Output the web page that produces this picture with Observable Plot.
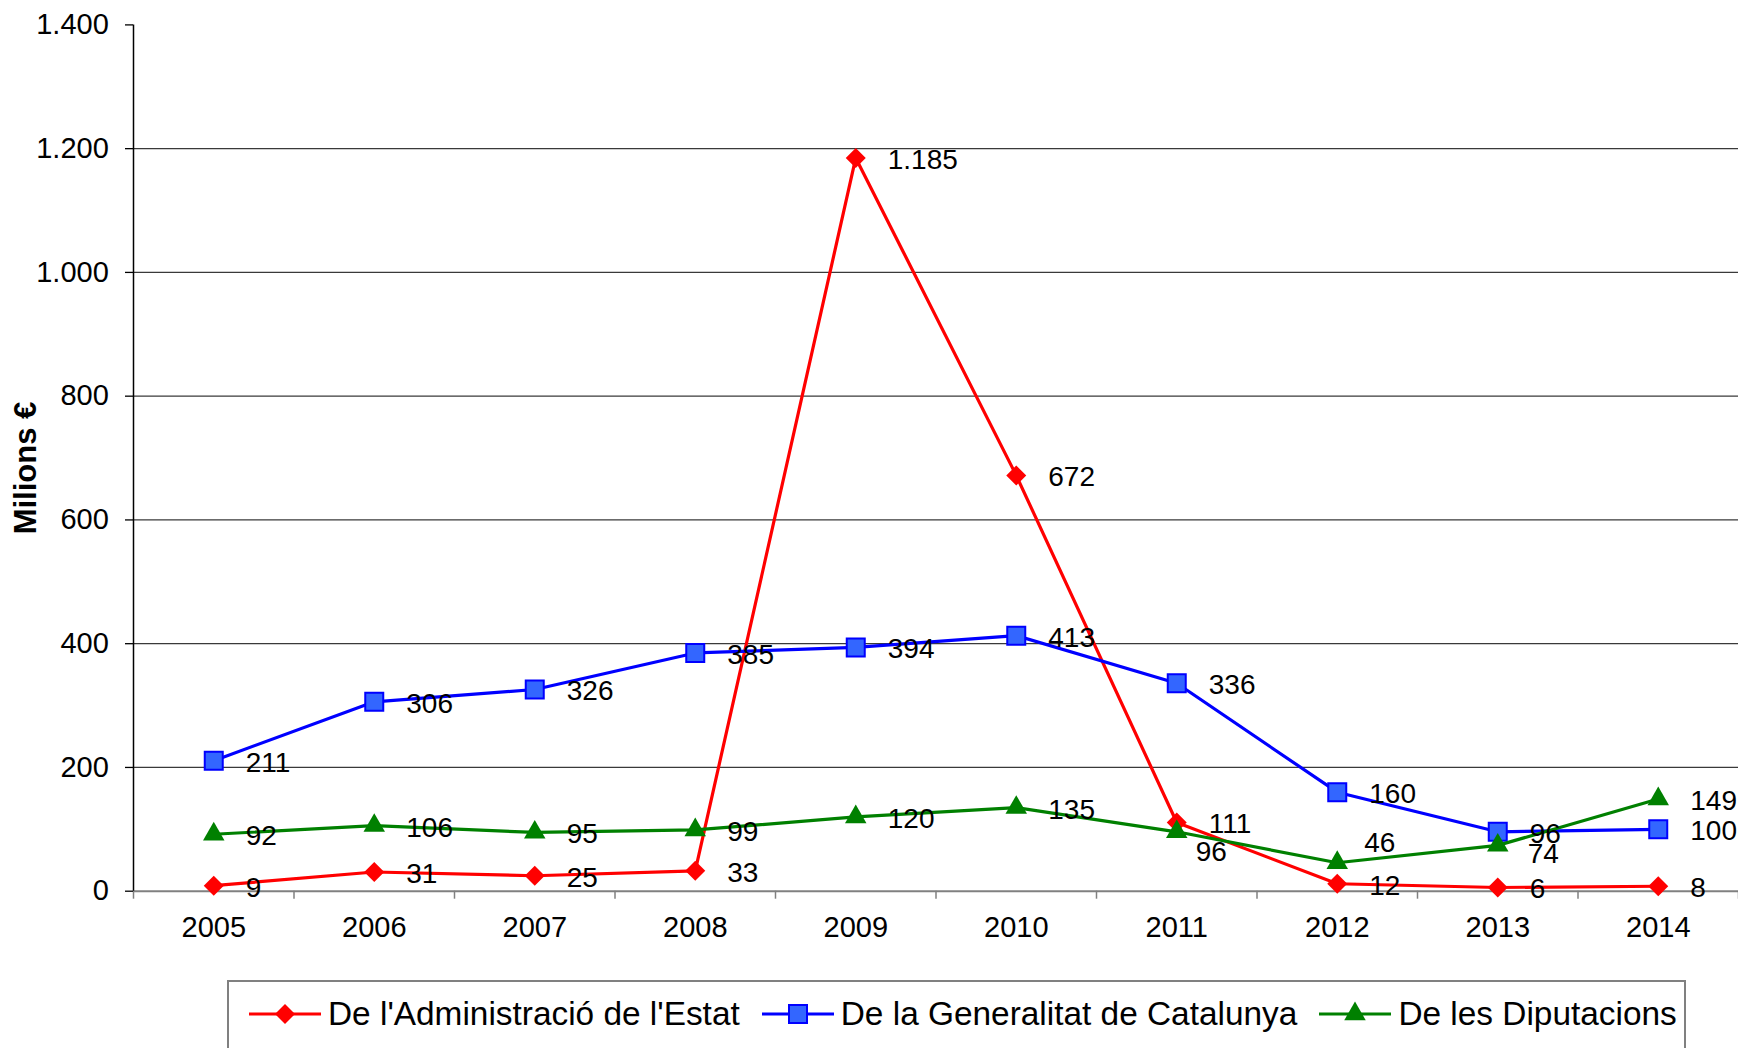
<!DOCTYPE html>
<html><head><meta charset="utf-8">
<script src="https://cdn.jsdelivr.net/npm/d3@7"></script>
<script src="https://cdn.jsdelivr.net/npm/@observablehq/plot@0.6"></script>
<style>
html,body{margin:0;padding:0;background:#fff;overflow:hidden;}
#wrap{position:relative;width:1738px;height:1048px;font-family:"Liberation Sans",Arial,sans-serif;}
#chart svg{display:block;}
#legend{position:absolute;left:227px;top:980px;width:1459px;height:120px;border:2px solid #808080;box-sizing:border-box;background:#fff;}
.row{display:flex;align-items:center;margin-top:12px;padding-left:20px;height:40px;}
.item{display:flex;align-items:center;margin-right:22px;}
.item svg{display:block;margin-right:7px;overflow:visible;}
.item span{font-size:33.4px;color:#000;white-space:nowrap;line-height:40px;}
</style></head>
<body><div id="wrap"><div id="chart"></div><div id="legend"><div class="row" id="row"></div></div></div>
<script>
// ---- data ----
const years = [2005, 2006, 2007, 2008, 2009, 2010, 2011, 2012, 2013, 2014];
const seriesNames = ["De l'Administració de l'Estat", "De la Generalitat de Catalunya", "De les Diputacions"];
const estat = [9, 31, 25, 33, 1185, 672, 111, 12, 6, 8];
const generalitat = [211, 306, 326, 385, 394, 413, 336, 160, 96, 100];
const diputacions = [92, 106, 95, 99, 120, 135, 96, 46, 74, 149];
const yTicks = [0, 200, 400, 600, 800, 1000, 1200, 1400];
const yLabel = "Milions €";

// ---- styles ----
const seriesValues = [estat, generalitat, diputacions];
const seriesStyle = [
  {stroke: "#FF0000", fill: "#FF0000", mstroke: "none", symbol: "diamond2", d3sym: d3.symbolDiamond2, size: 255},
  {stroke: "#0000FF", fill: "#3366FF", mstroke: "#0000FF", symbol: "square", d3sym: d3.symbolSquare, size: 324},
  {stroke: "#008000", fill: "#008000", mstroke: "none", symbol: "triangle", d3sym: d3.symbolTriangle, size: 200}
];
// manual label nudges (series index, year) -> pixel offsets
const nudges = [
  {s: 2, year: 2011, dx: 19, dy: 18},
  {s: 2, year: 2012, dx: 27, dy: -22},
  {s: 2, year: 2013, dx: 30, dy: 7}
];

const locale = d3.formatLocale({decimal: ",", thousands: ".", grouping: [3], currency: ["", " €"]});
const fmt = locale.format(",d");
const font = "'Liberation Sans', Arial, sans-serif";

const rows = seriesNames.flatMap((name, si) =>
  years.map((year, i) => ({s: si, series: name, year, value: seriesValues[si][i]})));

const boundaries = years.map(y => y - 0.5).concat([years[years.length - 1] + 0.5]);
const isNudged = d => nudges.some(n => n.s === d.s && n.year === d.year);

const marks = [
  Plot.ruleY(yTicks.filter(d => d > 0 && d < d3.max(yTicks)), {stroke: "#3a3a3a", strokeWidth: 1.3}),
  Plot.ruleY([0], {stroke: "#808080", strokeWidth: 2}),
  Plot.axisX({ticks: boundaries, tickSize: 8, tickFormat: () => "", label: null, stroke: "#808080", strokeWidth: 1.5}),
  Plot.ruleX([boundaries[0]], {stroke: "#000", strokeWidth: 1.5}),
  Plot.axisY({ticks: yTicks, tickSize: 8, tickPadding: 16.7, tickFormat: fmt, label: null, stroke: "#000", strokeWidth: 1.3, fontSize: 29, fill: "#000"}),
  Plot.axisX({ticks: years, tickSize: 0, tickPadding: 25, tickFormat: d => String(d), label: null, fontSize: 29, fill: "#000"}),
  Plot.text([yLabel], {frameAnchor: "left", textAnchor: "middle", rotate: -90, dx: -107, dy: 10, fontSize: 31, fontWeight: "bold", fill: "#000"})
];

seriesNames.forEach((name, si) => {
  const st = seriesStyle[si];
  const data = rows.filter(d => d.s === si);
  marks.push(Plot.line(data, {x: "year", y: "value", stroke: st.stroke, strokeWidth: 3.2}));
  marks.push(Plot.dot(data, {x: "year", y: "value", symbol: () => st.symbol, r: Math.sqrt(st.size / Math.PI),
    fill: st.fill, stroke: st.mstroke, strokeWidth: st.mstroke === "none" ? 0 : 2}));
});

marks.push(Plot.text(rows.filter(d => !isNudged(d)), {x: "year", y: "value", text: d => fmt(d.value),
  textAnchor: "start", dx: 32, dy: 2, fontSize: 28, fill: "#000"}));
nudges.forEach(n => {
  marks.push(Plot.text(rows.filter(d => d.s === n.s && d.year === n.year), {x: "year", y: "value", text: d => fmt(d.value),
    textAnchor: "start", dx: n.dx, dy: n.dy + 2, fontSize: 28, fill: "#000"}));
});

const chart = Plot.plot({
  width: 1738, height: 960,
  marginTop: 24.4, marginBottom: 69.3, marginLeft: 133, marginRight: 0,
  x: {type: "linear", domain: [boundaries[0], boundaries[boundaries.length - 1]]},
  y: {domain: [0, d3.max(yTicks)]},
  style: {fontFamily: font, fontSize: "29px", color: "#000", background: "#fff", overflow: "visible"},
  marks
});
document.getElementById("chart").appendChild(chart);

// ---- legend ----
const row = d3.select("#row");
seriesNames.forEach((name, si) => {
  const st = seriesStyle[si];
  const item = row.append("div").attr("class", "item");
  const svg = item.append("svg").attr("width", 72).attr("height", 30);
  svg.append("line").attr("x1", 0).attr("x2", 72).attr("y1", 15).attr("y2", 15)
    .attr("stroke", st.stroke).attr("stroke-width", 3.2);
  svg.append("path").attr("transform", "translate(36,15)")
    .attr("d", d3.symbol(st.d3sym, st.size)())
    .attr("fill", st.fill).attr("stroke", st.mstroke).attr("stroke-width", st.mstroke === "none" ? 0 : 2);
  item.append("span").text(name);
});
</script></body></html>
